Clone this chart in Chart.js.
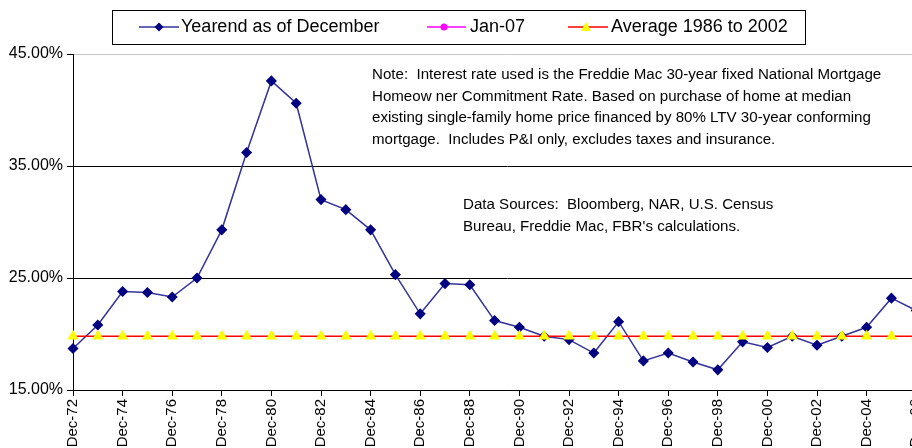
<!DOCTYPE html>
<html>
<head>
<meta charset="utf-8">
<script src="https://cdn.jsdelivr.net/npm/chart.js@4.4.1/dist/chart.umd.min.js"></script>
<style>
html, body { margin:0; padding:0; background:#fff; width:912px; height:448px; overflow:hidden; }
#wrap { position:absolute; left:0; top:0; width:962px; height:448px; }
.legend { position:absolute; left:112px; top:10px; width:694px; height:35px; box-sizing:border-box;
  border:1px solid #000; font-family:"Liberation Sans", Arial, sans-serif; font-size:18px; color:#000; }
.item { position:absolute; top:0; height:33px; line-height:33px; white-space:nowrap; }
.item svg { position:absolute; left:0; top:10px; }
.item span { position:absolute; top:-1px; }
.note { position:absolute; font-family:"Liberation Sans", Arial, sans-serif; font-size:15.1px;
  line-height:21.7px; white-space:pre; color:#000; }
</style>
</head>
<body>
<div id="wrap"><canvas id="grafico" width="962" height="448"></canvas></div>

<div class="legend">
  <div class="item" style="left:26px">
    <svg width="41" height="12"><line x1="0" y1="6" x2="40" y2="6" stroke="#333399" stroke-width="1.5"/>
      <polygon points="20,1.5 24.5,6 20,10.5 15.5,6" fill="#000080"/></svg>
    <span style="left:42px">Yearend as of December</span>
  </div>
  <div class="item" style="left:314px">
    <svg width="41" height="12"><line x1="0" y1="6" x2="39" y2="6" stroke="#ff00ff" stroke-width="1.5"/>
      <circle cx="17" cy="6" r="3.5" fill="#ff00ff"/></svg>
    <span style="left:43px">Jan-07</span>
  </div>
  <div class="item" style="left:455px">
    <svg width="41" height="12"><line x1="0" y1="6" x2="40" y2="6" stroke="#ff0000" stroke-width="1.5"/>
      <polygon points="18,1 23,10 13,10" fill="#ffff00"/></svg>
    <span style="left:43px">Average 1986 to 2002</span>
  </div>
</div>

<div class="note" style="left:372px; top:63px">Note:  Interest rate used is the Freddie Mac 30-year fixed National Mortgage
Homeow ner Commitment Rate. Based on purchase of home at median
existing single-family home price financed by 80% LTV 30-year conforming
mortgage.  Includes P&amp;I only, excludes taxes and insurance.</div>

<div class="note" style="left:463px; top:193px">Data Sources:  Bloomberg, NAR, U.S. Census
Bureau, Freddie Mac, FBR's calculations.</div>

<script>
// periodos (diciembre de cada anio) + el punto de enero 2007
const etiquetas = ['Dec-72','Dec-73','Dec-74','Dec-75','Dec-76','Dec-77','Dec-78','Dec-79',
    'Dec-80','Dec-81','Dec-82','Dec-83','Dec-84','Dec-85','Dec-86','Dec-87','Dec-88','Dec-89',
    'Dec-90','Dec-91','Dec-92','Dec-93','Dec-94','Dec-95','Dec-96','Dec-97','Dec-98','Dec-99',
    'Dec-00','Dec-01','Dec-02','Dec-03','Dec-04','Dec-05','Dec-06','Jan-07']

// porcentaje del ingreso, fin de anio
const finDeAnio = [18.7, 20.8, 23.8, 23.7, 23.3, 25.0, 29.3, 36.2, 42.6, 40.6,
    32.0, 31.1, 29.3, 25.3, 21.8, 24.5, 24.4, 21.2, 20.6, 19.8,
    19.5, 18.3, 21.1, 17.6, 18.3, 17.5, 16.8, 19.3, 18.8, 19.8,
    19.0, 19.8, 20.6, 23.2, 22.1, null]

const promedio = [19.8, 19.8, 19.8, 19.8, 19.8, 19.8, 19.8, 19.8, 19.8, 19.8,
    19.8, 19.8, 19.8, 19.8, 19.8, 19.8, 19.8, 19.8, 19.8, 19.8,
    19.8, 19.8, 19.8, 19.8, 19.8, 19.8, 19.8, 19.8, 19.8, 19.8,
    19.8, 19.8, 19.8, 19.8, 19.8, 19.8]

const valorEnero07 = 21.9
const ticksY = [15, 25, 35, 45]

const datosEnero = etiquetas.map(e => e === 'Jan-07' ? valorEnero07 : null)

const fuente = 'Liberation Sans, Arial, sans-serif'

new Chart(document.getElementById('grafico'), {
    type: 'line',
    data: {
        labels: etiquetas,
        datasets: [{
            label: 'Average 1986 to 2002',
            data: promedio,
            borderColor: '#ff0000',
            borderWidth: 1.5,
            pointStyle: 'triangle',
            pointRadius: 5,
            pointBackgroundColor: '#ffff00',
            pointBorderColor: '#ffff00',
            order: 0,
            clip: false
        }, {
            label: 'Jan-07',
            data: datosEnero,
            borderColor: '#ff00ff',
            pointStyle: 'circle',
            pointRadius: 4,
            pointBackgroundColor: '#ff00ff',
            pointBorderColor: '#ff00ff',
            order: 1,
            clip: false
        }, {
            label: 'Yearend as of December',
            data: finDeAnio,
            borderColor: '#333399',
            borderWidth: 1.5,
            pointStyle: 'rectRot',
            pointRadius: 4.5,
            pointBackgroundColor: '#000080',
            pointBorderColor: '#000080',
            order: 2,
            clip: false
        }]
    },
    options: {
        responsive: false,
        animation: false,
        layout: { padding: { top: 54, right: 20, left: 0, bottom: 0 } },
        plugins: { legend: { display: false }, tooltip: { enabled: false } },
        scales: {
            x: {
                offset: false,
                afterFit: s => { s.height = 58 },
                grid: {
                    drawOnChartArea: false,
                    tickLength: 6,
                    color: ctx => ctx.index % 2 === 0 ? '#000' : 'rgba(0,0,0,0)'
                },
                border: { color: '#000', width: 1 },
                ticks: {
                    autoSkip: false,
                    minRotation: 90,
                    maxRotation: 90,
                    padding: 3,
                    color: '#000',
                    font: { family: fuente, size: 15 },
                    callback: (v, i) => i % 2 === 0 ? etiquetas[i] : ''
                }
            },
            y: {
                min: 15,
                max: 45,
                afterFit: s => { s.width = 73 },
                afterBuildTicks: s => { s.ticks = ticksY.map(v => ({ value: v })) },
                grid: {
                    tickLength: 6,
                    color: ctx => ctx.tick && ctx.tick.value === 45 ? '#c8c8c8' : '#000',
                    tickColor: '#000'
                },
                border: { color: '#000', width: 1 },
                ticks: {
                    padding: 4,
                    color: '#000',
                    font: { family: fuente, size: 16 },
                    callback: v => v.toFixed(2) + '%'
                }
            }
        }
    }
})
</script>
</body>
</html>
